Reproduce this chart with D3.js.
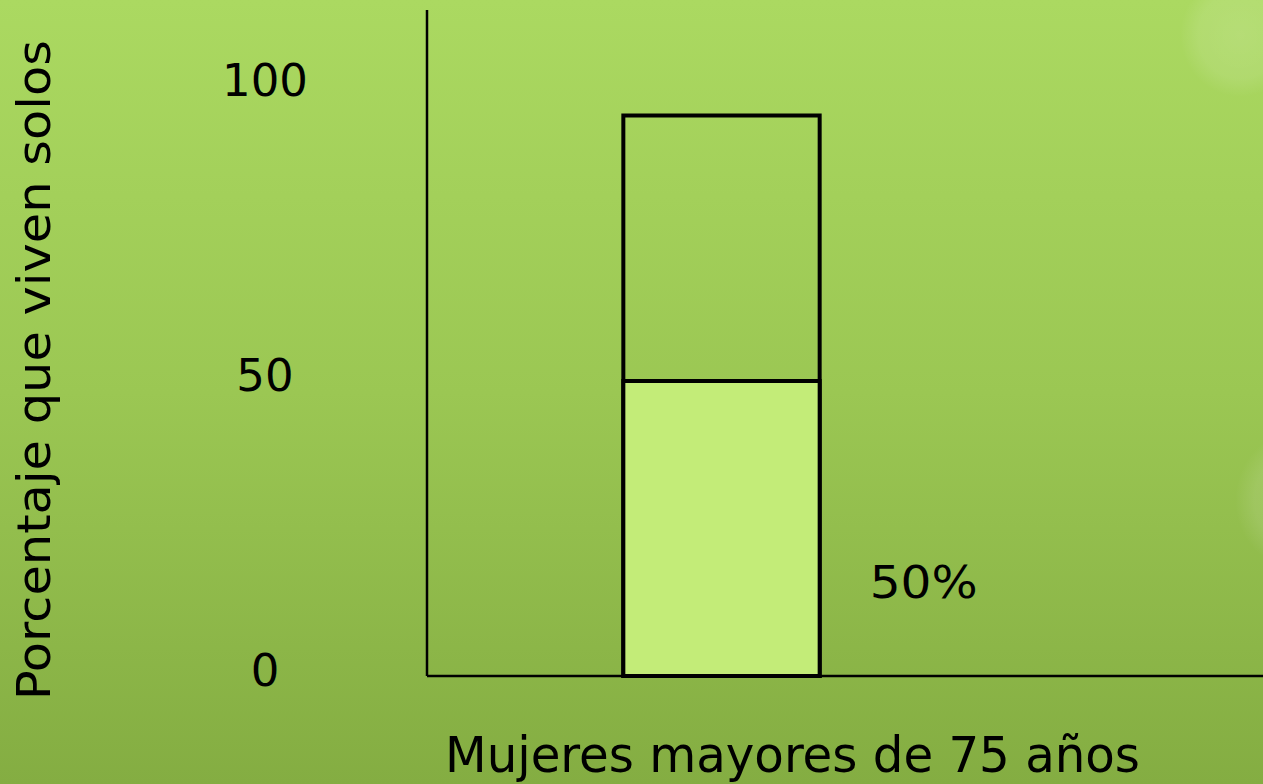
<!DOCTYPE html>
<html>
<head>
<meta charset="utf-8">
<script src="https://cdn.jsdelivr.net/npm/d3@7"></script>
<style>
  html, body { margin: 0; padding: 0; overflow: hidden; }
  svg { display: block; }
  text { fill: #000; }
</style>
</head>
<body>
<div id="chart"></div>
<script>
var categories = ['Mujeres mayores de 75 años']
var totals = [95]
var values = [50]
var yTicks = [0, 50, 100]
var valueLabels = ['50%']
var yTitle = 'Porcentaje que viven solos'

var width = 1263, height = 784
var svg = d3.select('#chart').append('svg')
  .attr('width', width).attr('height', height)

var defs = svg.append('defs')
var bg = defs.append('linearGradient').attr('id', 'bg')
  .attr('x1', 0).attr('y1', 0).attr('x2', 0).attr('y2', 1)
bg.append('stop').attr('offset', '0%').attr('stop-color', '#abd961')
bg.append('stop').attr('offset', '50%').attr('stop-color', '#9bc753')
bg.append('stop').attr('offset', '100%').attr('stop-color', '#84ad42')

var glow = defs.append('radialGradient').attr('id', 'glow')
glow.append('stop').attr('offset', '0%').attr('stop-color', '#fff').attr('stop-opacity', 0.14)
glow.append('stop').attr('offset', '70%').attr('stop-color', '#fff').attr('stop-opacity', 0.1)
glow.append('stop').attr('offset', '100%').attr('stop-color', '#fff').attr('stop-opacity', 0)

svg.append('rect').attr('width', width).attr('height', height).attr('fill', 'url(#bg)')

// faint decorative blobs on the right edge
svg.append('ellipse').attr('cx', 1240).attr('cy', 35).attr('rx', 60).attr('ry', 62).attr('fill', 'url(#glow)')
svg.append('ellipse').attr('cx', 1300).attr('cy', 500).attr('rx', 65).attr('ry', 70).attr('fill', 'url(#glow)')

var x = d3.scaleBand().domain(categories).range([427, 1016]).padding(0.5)
var y = d3.scaleLinear().domain([0, 100]).range([676, 86])

// axes lines
svg.append('line').attr('x1', 427).attr('x2', 427).attr('y1', 10).attr('y2', y(0))
  .attr('stroke', '#000').attr('stroke-width', 2.5)
svg.append('line').attr('x1', 427).attr('x2', width).attr('y1', y(0)).attr('y2', y(0))
  .attr('stroke', '#000').attr('stroke-width', 2.5)

// y tick labels
svg.append('g').selectAll('text').data(yTicks).join('text')
  .attr('x', 265)
  .attr('y', d => y(d))
  .attr('dy', '0.22em')
  .attr('text-anchor', 'middle')
  .style('font-family', '"DejaVu Sans", Verdana, sans-serif')
  .style('font-size', '45px')
  .text(d => d)

// outer (total) box
svg.append('g').selectAll('rect.total').data(categories).join('rect')
  .attr('class', 'total')
  .attr('x', d => x(d))
  .attr('width', x.bandwidth())
  .attr('y', (d, i) => y(totals[i]))
  .attr('height', (d, i) => y(0) - y(totals[i]))
  .attr('fill', 'none')
  .attr('stroke', '#000').attr('stroke-width', 4)

// value part
svg.append('g').selectAll('rect.value').data(categories).join('rect')
  .attr('class', 'value')
  .attr('x', d => x(d))
  .attr('width', x.bandwidth())
  .attr('y', (d, i) => y(values[i]))
  .attr('height', (d, i) => y(0) - y(values[i]))
  .attr('fill', '#c3ec78')
  .attr('stroke', '#000').attr('stroke-width', 4)

// value label
svg.append('g').selectAll('text').data(categories).join('text')
  .attr('x', d => x(d) + x.bandwidth() + 50)
  .attr('y', y(0) - 78)
  .style('font-family', '"DejaVu Sans", Verdana, sans-serif')
  .style('font-size', '45px')
  .attr('textLength', 108).attr('lengthAdjust', 'spacingAndGlyphs')
  .text((d, i) => valueLabels[i])

// x category label
svg.append('g').selectAll('text').data(categories).join('text')
  .attr('x', 445)
  .attr('y', 772)
  .style('font-family', '"Liberation Sans Narrow", "DejaVu Sans Condensed", sans-serif')
  .style('font-size', '50px')
  .attr('textLength', 695).attr('lengthAdjust', 'spacingAndGlyphs')
  .text(d => d)

// y title
svg.append('text')
  .attr('transform', 'translate(50,700) rotate(-90)')
  .style('font-family', '"DejaVu Sans Condensed", "Liberation Sans Narrow", sans-serif')
  .style('font-size', '46px')
  .attr('textLength', 660).attr('lengthAdjust', 'spacingAndGlyphs')
  .text(yTitle)
</script>
</body>
</html>
